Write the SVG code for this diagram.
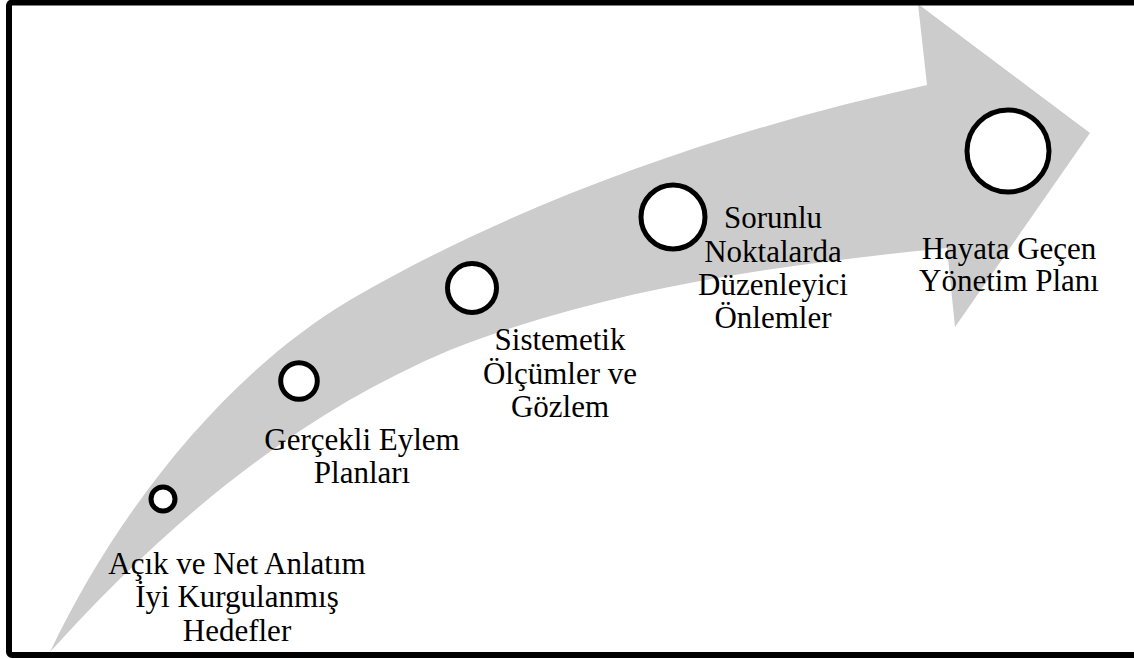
<svg xmlns="http://www.w3.org/2000/svg" width="1134" height="659" viewBox="0 0 1134 659">
<style>
.lbl{font-family:"Liberation Serif","Times New Roman",serif;font-size:31px;fill:#000;text-anchor:middle}
.dot{fill:#fff;stroke:#000;stroke-width:5}
</style>
<rect x="0" y="0" width="1134" height="659" fill="#fff"/>
<g id="arrow">
<path d="M 50 652 C 114 517, 221 377, 350 300 C 525 198, 732 128, 927 85 L 918 4 L 1090 133 L 955 327 L 947 248 C 777 265, 608 288, 450 350 C 293 416, 164 526, 50 652 Z" fill="#cccccc"/>
</g>
<g id="connectors"></g>
<g id="step1">
<circle class="dot" cx="163" cy="499" r="12"/>
<text class="lbl" x="237" y="574">Açık ve Net Anlatım</text>
<text class="lbl" x="237" y="607">İyi Kurgulanmış</text>
<text class="lbl" x="237" y="641">Hedefler</text>
</g>
<g id="step2">
<circle class="dot" cx="299" cy="381" r="18.3"/>
<text class="lbl" x="362" y="450">Gerçekli Eylem</text>
<text class="lbl" x="362" y="483">Planları</text>
</g>
<g id="step3">
<circle class="dot" cx="472" cy="288" r="24.5"/>
<text class="lbl" x="560" y="350">Sistemetik</text>
<text class="lbl" x="560" y="384">Ölçümler ve</text>
<text class="lbl" x="560" y="417">Gözlem</text>
</g>
<g id="step4">
<circle class="dot" cx="673" cy="217" r="32"/>
<text class="lbl" x="773" y="228">Sorunlu</text>
<text class="lbl" x="773" y="262">Noktalarda</text>
<text class="lbl" x="773" y="295">Düzenleyici</text>
<text class="lbl" x="773" y="328">Önlemler</text>
</g>
<g id="step5">
<circle class="dot" cx="1008" cy="151" r="41"/>
<text class="lbl" x="1009" y="259">Hayata Geçen</text>
<text class="lbl" x="1009" y="291">Yönetim Planı</text>
</g>
<rect x="9" y="2.5" width="1140" height="652.5" rx="3" fill="none" stroke="#000" stroke-width="6"/>
</svg>
